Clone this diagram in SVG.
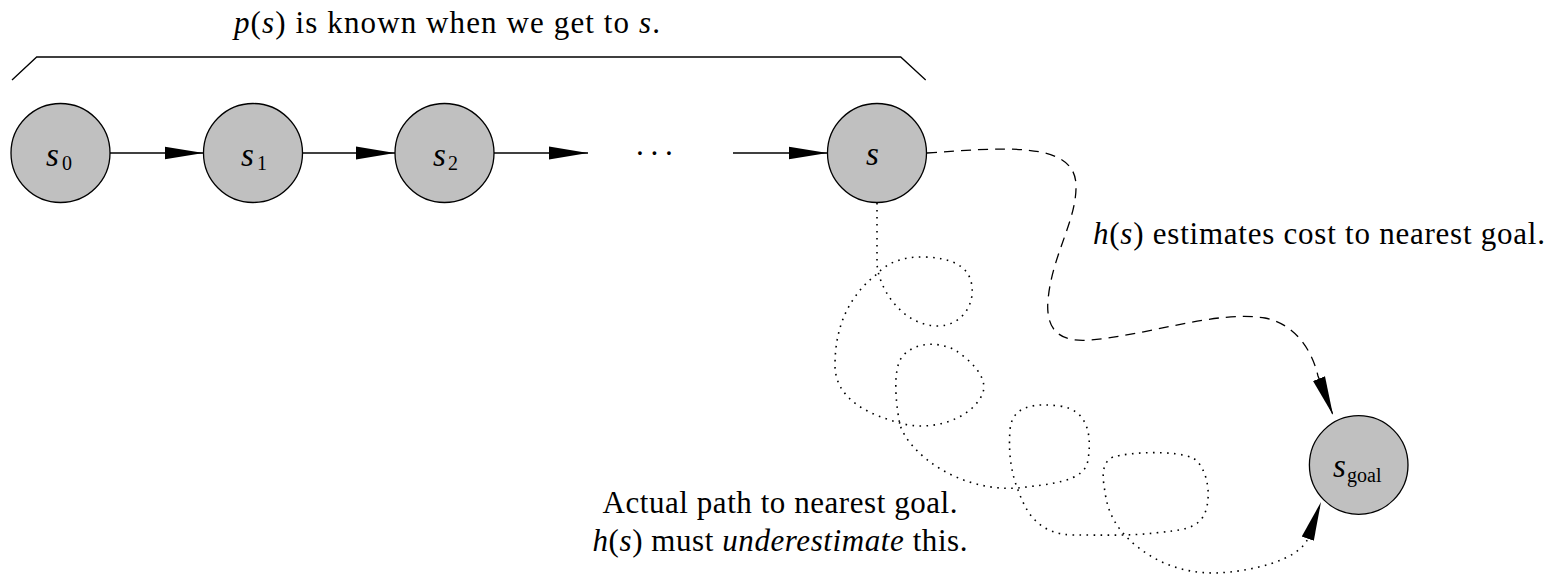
<svg xmlns="http://www.w3.org/2000/svg" width="1557" height="574" viewBox="0 0 1557 574">
<style>
  .node circle { fill: #c0c0c0; stroke: #000; stroke-width: 1.3; }
  .lbl { font-family: "Liberation Serif", "Times New Roman", serif; font-size: 31px; fill: #000; }
  .m { font-style: italic; }
  .var { font-family: "Liberation Serif", "Times New Roman", serif; font-size: 33px; font-style: italic; fill: #000; }
  .sub { font-family: "Liberation Serif", "Times New Roman", serif; font-size: 20px; fill: #000; }
  .edge { fill: none; stroke: #000; stroke-width: 1.3; }
  .dash { fill: none; stroke: #000; stroke-width: 1.3; stroke-dasharray: 10 7; }
  .dot { fill: none; stroke: #000; stroke-width: 1.6; stroke-dasharray: 1.6 5.4; }
</style>
<defs>
  <marker id="arr" markerUnits="userSpaceOnUse" viewBox="0 0 40 14" markerWidth="40" markerHeight="14" refX="39" refY="7" orient="auto">
    <path d="M0,0.6 L39,7 L0,13.4 Z" fill="#000" stroke="none"/>
  </marker>
</defs>

<g id="bracket">
  <path class="edge" d="M12,80 L36.7,57 L900.7,57 L925.7,80"/>
  <text class="lbl" x="234" y="32.5" textLength="426" lengthAdjust="spacing"><tspan class="m">p</tspan>(<tspan class="m">s</tspan>) is known when we get to <tspan class="m">s</tspan>.</text>
</g>

<g id="connectors">
  <line class="edge" x1="110" y1="153" x2="203.5" y2="153" marker-end="url(#arr)"/>
  <line class="edge" x1="302" y1="153" x2="395" y2="153" marker-end="url(#arr)"/>
  <line class="edge" x1="494" y1="153" x2="588" y2="153" marker-end="url(#arr)"/>
  <line class="edge" x1="733" y1="153" x2="827.5" y2="153" marker-end="url(#arr)"/>
  <path class="dash" d="M927,153 C1000,148 1075,140 1076,185 C1077,220 1052,255 1048,300 C1045,335 1065,342 1090,340 C1150,335 1215,310 1265,318 C1295,324 1312,350 1318,376 L1333,415" marker-end="url(#arr)"/>
  <path class="dot" d="M877,203 L877,262 C877,285 900,325 937,326 C962,326 974,305 972,287 C970,265 950,258 925,257 C900,256 885,265 877,274 C850,295 835,325 835,365 C835,400 870,415 900,423 C930,432 970,420 982,395 C990,378 970,360 955,350 C935,340 910,343 900,360 C893,375 896,405 900,425 C910,455 960,492 1018,488 C1050,484 1085,482 1088,460 C1092,435 1088,410 1060,406 C1035,403 1012,405 1010,430 C1008,455 1012,475 1018,490 C1027,515 1040,535 1075,535 C1100,535 1130,536 1155,533 C1180,530 1200,530 1206,510 C1212,490 1205,465 1193,458 C1175,450 1130,452 1113,457 C1100,463 1103,480 1105,492 C1108,515 1118,530 1135,545 C1160,565 1185,573 1215,573 C1250,572 1300,560 1308,538 L1321,502" marker-end="url(#arr)"/>
  <text class="lbl" x="640 654.5 669" y="164" text-anchor="middle">···</text>
  <text class="lbl" x="1093" y="243.5" textLength="452" lengthAdjust="spacing"><tspan class="m">h</tspan>(<tspan class="m">s</tspan>) estimates cost to nearest goal.</text>
  <text class="lbl" x="780" y="513" text-anchor="middle" textLength="355" lengthAdjust="spacing">Actual path to nearest goal.</text>
  <text class="lbl" x="780" y="551" text-anchor="middle" textLength="375" lengthAdjust="spacing"><tspan class="m">h</tspan>(<tspan class="m">s</tspan>) must <tspan class="m">underestimate</tspan> this.</text>
</g>

<g id="s0" class="node">
  <circle cx="60.5" cy="153" r="49.5"/>
  <text class="var" x="46" y="166">s</text><text class="sub" x="62" y="170">0</text>
</g>
<g id="s1" class="node">
  <circle cx="253" cy="153" r="49.5"/>
  <text class="var" x="241" y="166">s</text><text class="sub" x="257" y="170">1</text>
</g>
<g id="s2" class="node">
  <circle cx="444.5" cy="153" r="49.5"/>
  <text class="var" x="433" y="166">s</text><text class="sub" x="448" y="170">2</text>
</g>
<g id="s" class="node">
  <circle cx="877" cy="153" r="49.5"/>
  <text class="var" x="866" y="165">s</text>
</g>
<g id="sgoal" class="node">
  <circle cx="1358.7" cy="465" r="49.3"/>
  <text class="var" x="1333" y="477">s</text><text class="sub" x="1347" y="482">goal</text>
</g>
</svg>
